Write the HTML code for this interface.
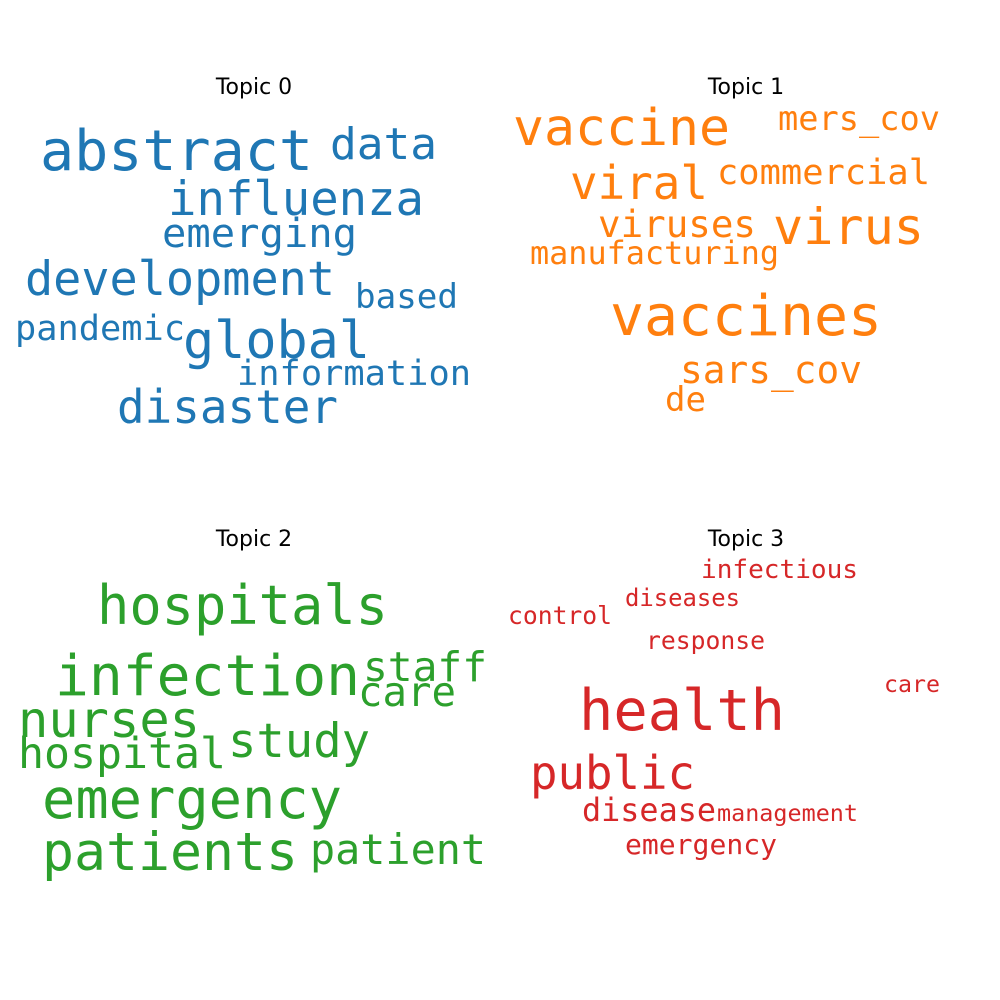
<!DOCTYPE html>
<html><head><meta charset="utf-8"><style>
html,body{margin:0;padding:0;background:#fff;}
svg{display:block;}
</style></head>
<body>
<svg id="chart" width="1000" height="1000" viewBox="0 0 1000 1000" xmlns="http://www.w3.org/2000/svg">
<rect width="1000" height="1000" fill="#fff"/>
</svg>
<script>
const titles = ["Topic 0","Topic 1","Topic 2","Topic 3"];
const colors = ["#1f77b4","#ff7f0e","#2ca02c","#d62728"];
// word, topic, left x, right x, baseline y, font size
const words = [
["abstract",0,40,313,170,56],["data",0,330,437,159,44],["influenza",0,168,424,215,47],
["emerging",0,162,357,247,40],["development",0,25,335,295,47],["based",0,355,458,308,34],
["pandemic",0,15,185,340,35],["global",0,183,370,358,52],["information",0,237,471,385,35],
["disaster",0,117,338,423,46],
["vaccine",1,513,730,145,51],["mers_cov",1,778,940,130,34],["viral",1,570,708,199,46],
["commercial",1,717,930,184,35],["viruses",1,598,756,237,37],["virus",1,773,924,244,50],
["manufacturing",1,530,779,264,32],["vaccines",1,610,882,335,56],["sars_cov",1,680,862,383,38],
["de",1,665,706,411,34],
["hospitals",2,97,388,624,54],["infection",2,55,360,695,56],["staff",2,363,487,681,41],
["care",2,358,456,706,41],["nurses",2,18,200,737,50],["study",2,228,370,757,47],
["hospital",2,18,226,768,43],["emergency",2,42,342,818,55],["patients",2,42,298,870,53],
["patient",2,310,486,864,42],
["infectious",3,701,858,578,26],["diseases",3,625,740,606,24],["control",3,508,612,624,25],
["response",3,646,765,649,25],["care",3,884,940,692,23],["health",3,579,785,730,57],
["public",3,530,695,789,46],["disease",3,582,716,821,32],["management",3,717,858,821,23],
["emergency",3,625,777,854,28]
];
const NS="http://www.w3.org/2000/svg";
const svg=document.getElementById('chart');
const tpos=[[254,94],[746,94],[254,546],[746,546]];
titles.forEach((t,i)=>{
  const el=document.createElementNS(NS,'text');
  
  
  el.setAttribute('x',tpos[i][0]);el.setAttribute('y',tpos[i][1]);
  el.setAttribute('text-anchor','middle');
  el.setAttribute('font-family','"DejaVu Sans","Liberation Sans",sans-serif');
  el.setAttribute('font-size','22');el.setAttribute('fill','#000');
  el.textContent=t;svg.appendChild(el);
});
words.forEach(w=>{
  const el=document.createElementNS(NS,'text');
  
  
  el.setAttribute('x',w[2]);el.setAttribute('y',w[4]);
  el.setAttribute('textLength',w[3]-w[2]);
  el.setAttribute('lengthAdjust','spacingAndGlyphs');
  el.setAttribute('font-family','"DejaVu Sans Mono","Liberation Mono",monospace');
  el.setAttribute('font-size',w[5]);
  el.setAttribute('fill',colors[w[1]]);
  el.textContent=w[0];svg.appendChild(el);
});
</script>
</body></html>
